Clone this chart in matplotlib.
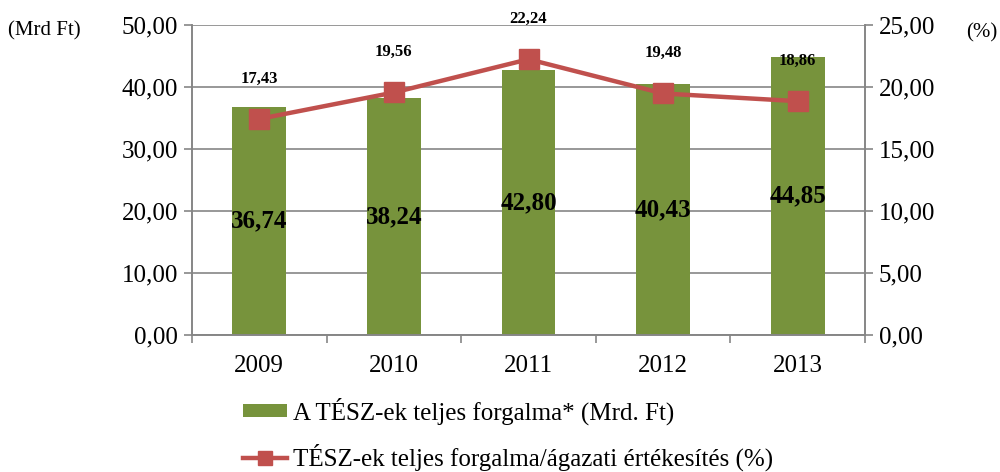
import matplotlib
matplotlib.use("Agg")
import matplotlib.pyplot as plt
import numpy as np

years = ["2009", "2010", "2011", "2012", "2013"]
forgalom = [36.74, 38.24, 42.80, 40.43, 44.85]
arany = [17.43, 19.56, 22.24, 19.48, 18.86]

plt.rcParams['font.family'] = ['Liberation Serif', 'DejaVu Serif']

green = "#77933C"
red = "#C0504D"
gray = "#868686"

fig = plt.figure(figsize=(10, 4.72), dpi=100)
ax = fig.add_axes([0.192, 0.29, 0.673, 0.657])
ax2 = ax.twinx()

x = np.arange(len(years))
bars = ax.bar(x, forgalom, width=0.4, color=green, zorder=2,
              label="A TÉSZ-ek teljes forgalma* (Mrd. Ft)")
ax.set_xlim(-0.5, 4.5)
ax.set_ylim(0, 50)
ax.set_yticks(np.arange(0, 51, 10))
ax.set_yticklabels([f"{v:.2f}".replace(".", ",") for v in np.arange(0, 51, 10)], fontsize=18)
ax.set_xticks(x)
ax.set_xticklabels(years, fontsize=18)
ax.set_xticks(np.arange(-0.5, 5, 1), minor=True)
ax.tick_params(axis='x', which='major', length=0, pad=14)
ax.tick_params(axis='x', which='minor', length=6, color=gray, width=1.2)
ax.tick_params(axis='y', length=6, color=gray, width=1.2, pad=4)
ax.yaxis.grid(True, color=gray, linewidth=1.2, zorder=0)
ax.set_axisbelow(True)
for s in ax.spines.values():
    s.set_color(gray)
    s.set_linewidth(1.2)
ax.spines['top'].set_visible(False)

for xi, v in zip(x, forgalom):
    ax.text(xi, v / 2, f"{v:.2f}".replace(".", ","), ha='center', va='center',
            fontsize=18, fontweight='bold', zorder=5)

line, = ax2.plot(x, arany, color=red, linewidth=3.2, marker='s', markersize=14,
                 label="TÉSZ-ek teljes forgalma/ágazati értékesítés (%)", zorder=4)
ax2.set_ylim(0, 25)
ax2.set_yticks(np.arange(0, 26, 5))
ax2.set_yticklabels([f"{v:.2f}".replace(".", ",") for v in np.arange(0, 26, 5)], fontsize=18)
ax2.tick_params(axis='y', length=6, color=gray, width=1.2, pad=4)
for s in ax2.spines.values():
    s.set_color(gray)
    s.set_linewidth(1.2)
ax2.spines['top'].set_visible(False)

for xi, v in zip(x, arany):
    ax2.annotate(f"{v:.2f}".replace(".", ","), (xi, v), xytext=(0, 29),
                 textcoords='offset points', ha='center', va='center',
                 fontsize=12, fontweight='bold')

fig.text(0.008, 0.935, "(Mrd Ft)", fontsize=15, va='center')
fig.text(0.966, 0.93, "(%)", fontsize=15, va='center')

fig.legend([bars, line], [bars.get_label(), line.get_label()],
           loc='upper left', bbox_to_anchor=(0.243, 0.158), frameon=False,
           fontsize=18, handlelength=1.75, handleheight=0.45, handletextpad=0.25,
           labelspacing=0.75, markerscale=0.7, borderpad=0, borderaxespad=0)

fig.savefig("out.png", dpi=100)
